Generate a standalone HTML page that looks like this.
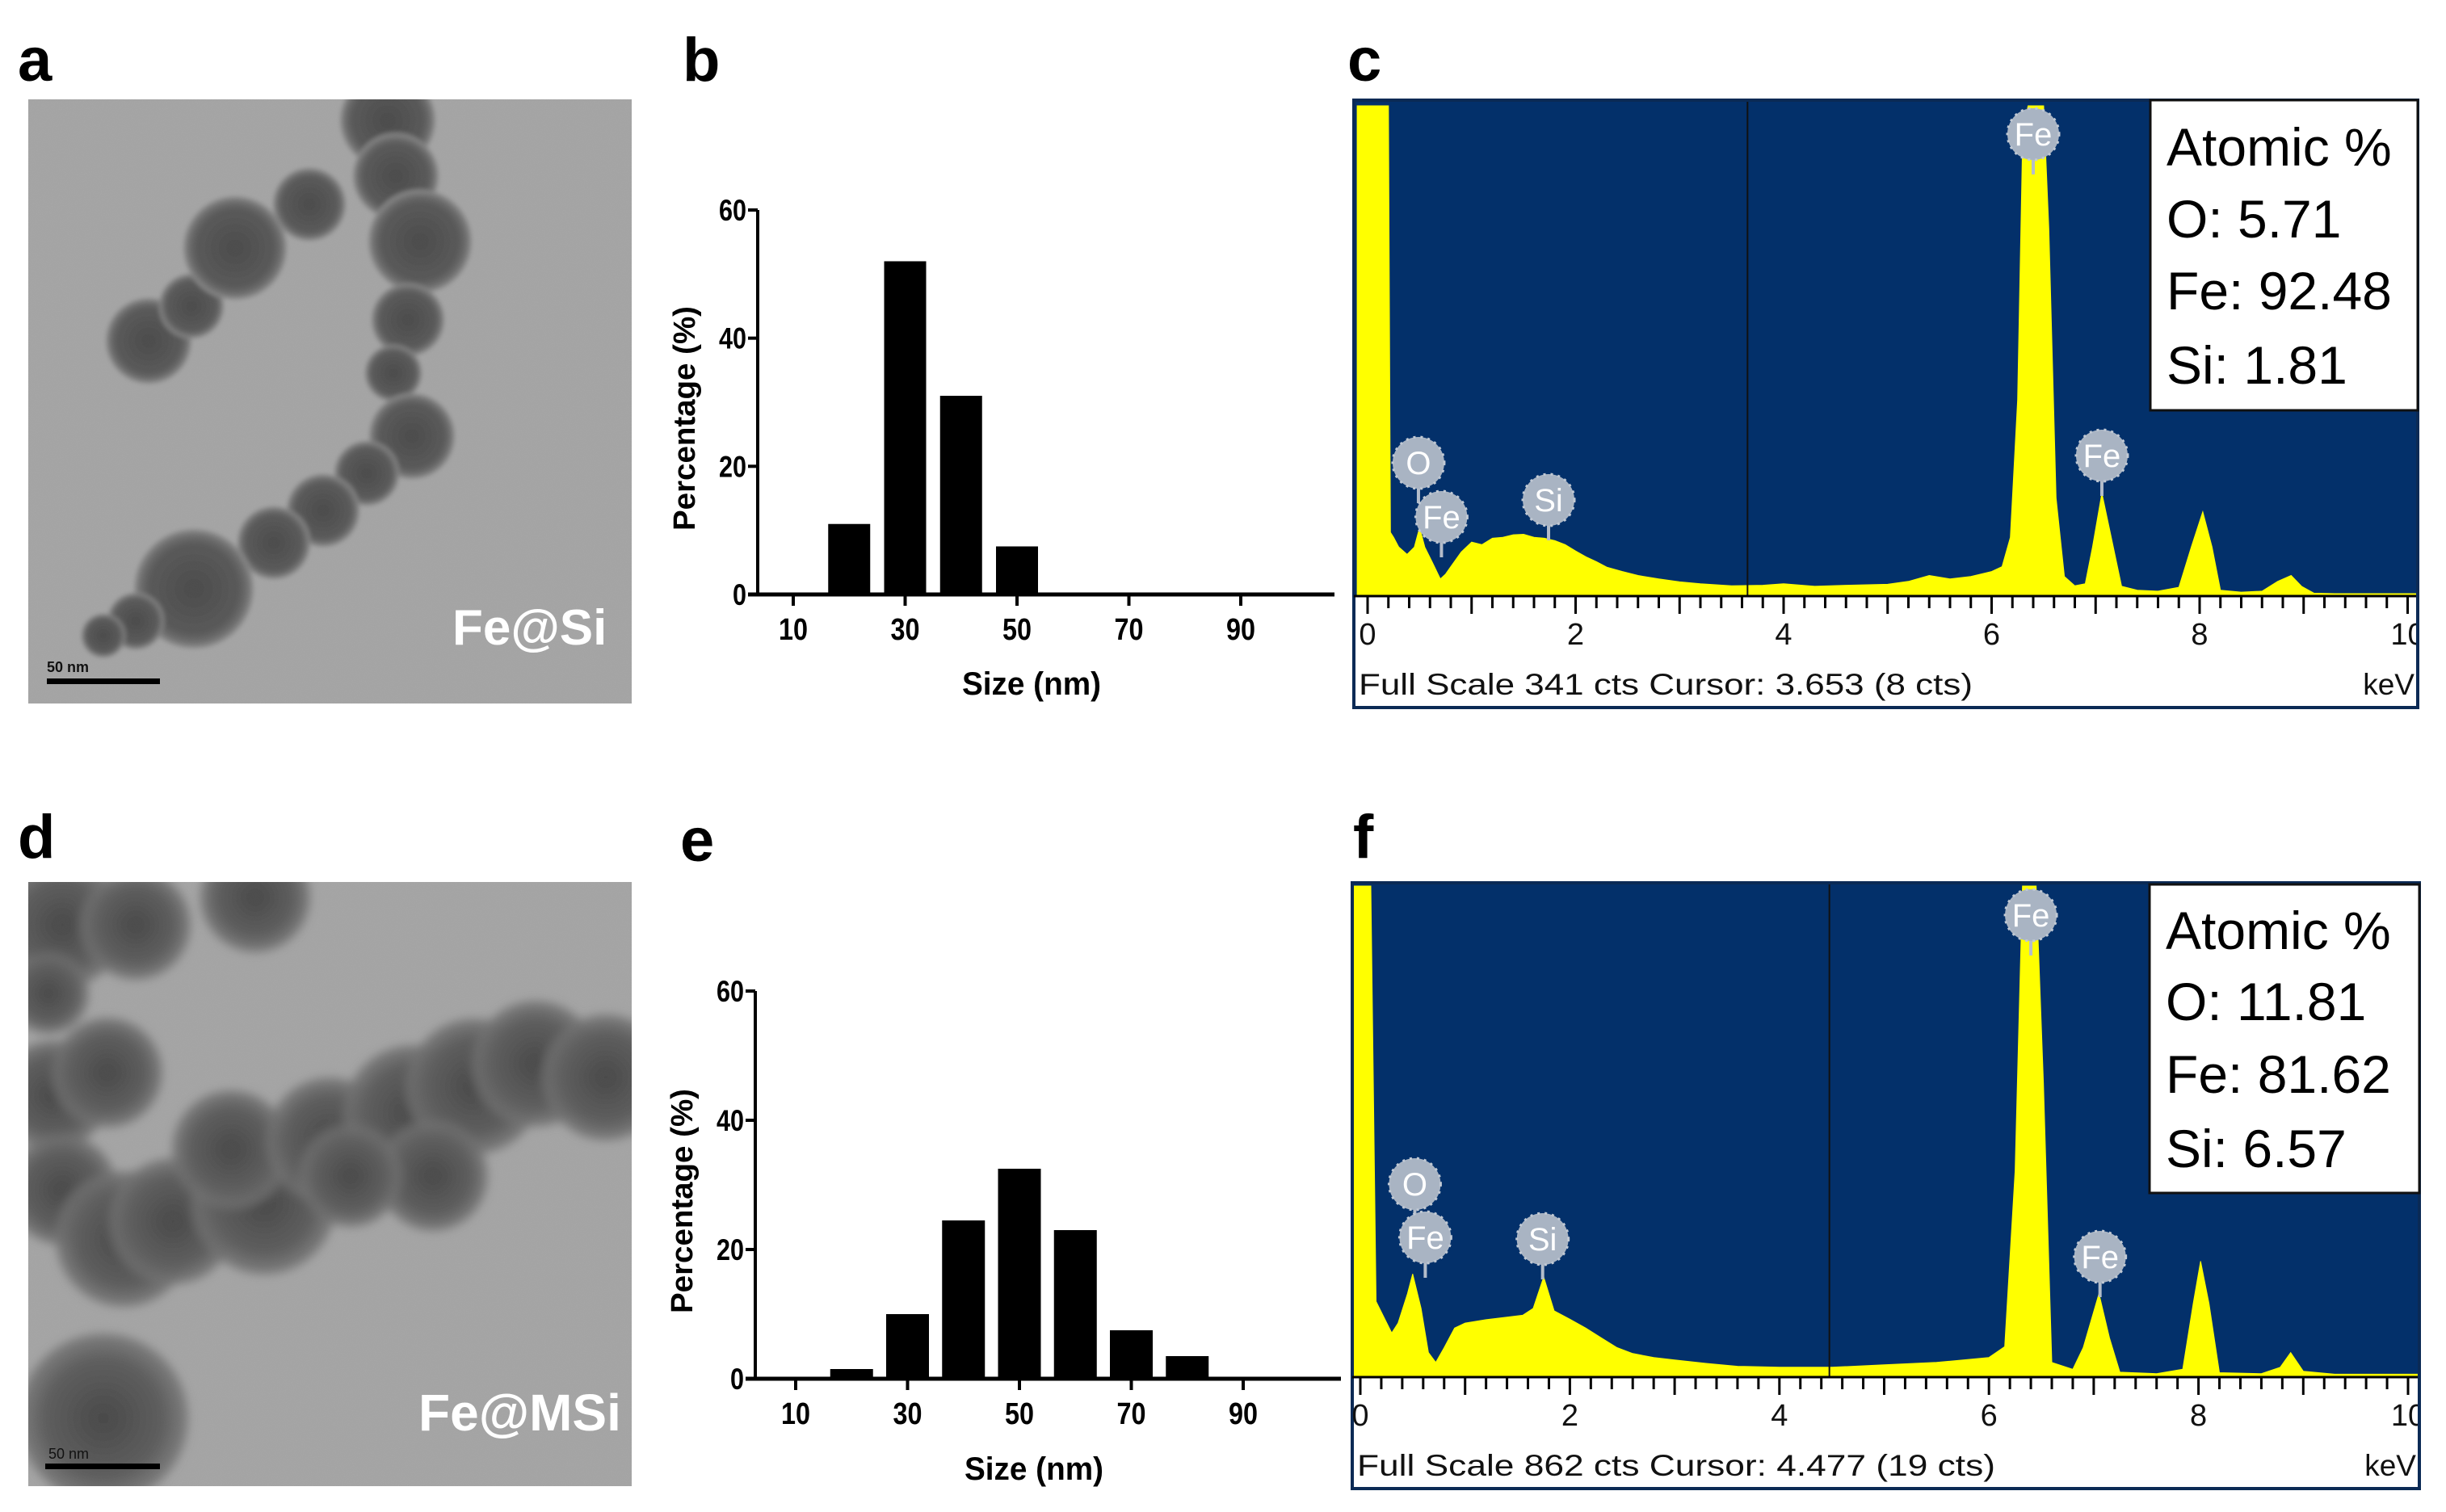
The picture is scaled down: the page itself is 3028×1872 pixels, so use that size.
<!DOCTYPE html>
<html><head><meta charset="utf-8">
<style>
html,body{margin:0;padding:0;background:#fff;}
body{width:3028px;height:1872px;overflow:hidden;position:relative;font-family:"Liberation Sans",sans-serif;}
svg{position:absolute;left:0;top:0;}
</style></head>
<body>
<svg id="fig" width="3028" height="1872" viewBox="0 0 3028 1872" xmlns="http://www.w3.org/2000/svg">
<defs>
<filter id="grain" x="0" y="0" width="100%" height="100%">
<feTurbulence type="fractalNoise" baseFrequency="0.9" numOctaves="2" seed="3" result="n"/>
<feColorMatrix in="n" type="matrix" values="0 0 0 0 0.5  0 0 0 0 0.5  0 0 0 0 0.5  0 0 0 0.35 0" result="g"/>
<feComposite in="g" in2="SourceGraphic" operator="atop"/>
</filter>
<filter id="blur6"><feGaussianBlur stdDeviation="3"/></filter>
<filter id="blur10"><feGaussianBlur stdDeviation="6"/></filter>
<radialGradient id="pA"><stop offset="0" stop-color="#202020"/><stop offset="0.75" stop-color="#343434"/><stop offset="0.9" stop-color="#555"/><stop offset="1" stop-color="#888"/></radialGradient>
<radialGradient id="pD"><stop offset="0" stop-color="#1c1c1c"/><stop offset="0.7" stop-color="#3c3c3c"/><stop offset="1" stop-color="#5e5e5e" stop-opacity="0.8"/></radialGradient>
<clipPath id="clipA"><rect x="35" y="123" width="747" height="748"/></clipPath>
<clipPath id="clipD"><rect x="35" y="1092" width="747" height="748"/></clipPath>
<clipPath id="clipC"><rect x="1678" y="126" width="1313" height="612"/></clipPath>
<clipPath id="clipF"><rect x="1676" y="1095" width="1317" height="610"/></clipPath>
<clipPath id="clipCfull"><rect x="1676" y="124" width="1315" height="752"/></clipPath>
<clipPath id="clipFfull"><rect x="1674" y="1093" width="1319" height="750"/></clipPath>
</defs>

<g font-family="Liberation Sans, sans-serif" font-weight="bold" font-size="76" fill="#000">
<text x="22" y="100">a</text>
<text x="845" y="100">b</text>
<text x="1668" y="100">c</text>
<text x="22" y="1062">d</text>
<text x="842" y="1066">e</text>
<text x="1675" y="1062">f</text>
</g>

<g>
<g clip-path="url(#clipA)">
<rect x="35" y="123" width="747" height="748" fill="#a8a8a8"/>
<g id="partsA" filter="url(#blur6)"></g>
<rect x="35" y="123" width="747" height="748" fill="#999" filter="url(#grain)" opacity="0.35"/>
</g>
<text x="560" y="798" font-size="62" font-weight="bold" fill="#fff">Fe@Si</text>
<rect x="58" y="840" width="140" height="7" fill="#000"/>
<text x="58" y="832" font-size="18" font-weight="bold" fill="#111">50 nm</text>
</g>

<g>
<g clip-path="url(#clipD)">
<rect x="35" y="1092" width="747" height="748" fill="#a8a8a8"/>
<g id="partsD" filter="url(#blur10)"></g>
<rect x="35" y="1092" width="747" height="748" fill="#999" filter="url(#grain)" opacity="0.35"/>
</g>
<text x="518" y="1771" font-size="64" font-weight="bold" fill="#fff">Fe@MSi</text>
<rect x="56" y="1812" width="142" height="7" fill="#000"/>
<text x="60" y="1806" font-size="18" fill="#111">50 nm</text>
</g>

<g id="histB"></g>
<g id="histE"></g>
<g id="edsC"></g>
<g id="edsF"></g>
</svg>

<script>
// ---------- histogram data ----------
const sizeCats = [10, 20, 30, 40, 50, 60, 70, 80, 90];
const xTickLabels = [10, 30, 50, 70, 90];
const yTickLabels = [0, 20, 40, 60];
const histBCats = [20, 30, 40, 50];
const histBVals = [11, 52, 31, 7.5];
const histECats = [20, 30, 40, 50, 60, 70, 80];
const histEVals = [1.5, 10, 24.5, 32.5, 23, 7.5, 3.5];

// ---------- EDS data (energy keV, intensity fraction of full scale) ----------
const edsCEnergy = [-0.1,-0.05,0.2,0.22,0.25,0.3,0.38,0.45,0.5,0.55,0.62,0.7,0.75,0.8,0.9,1.0,1.1,1.2,1.3,1.4,1.5,1.6,1.7,1.8,1.9,2.0,2.1,2.2,2.3,2.45,2.6,2.8,3.0,3.2,3.5,3.8,4.0,4.3,4.6,5.0,5.2,5.4,5.6,5.8,6.0,6.1,6.18,6.25,6.3,6.35,6.5,6.55,6.62,6.7,6.8,6.9,6.97,7.06,7.15,7.25,7.4,7.6,7.8,7.92,8.03,8.12,8.2,8.4,8.6,8.75,8.88,8.98,9.1,9.3,9.6,10.1];
const edsCVals =   [1.0,1.0,1.0,0.13,0.12,0.10,0.085,0.10,0.14,0.10,0.07,0.035,0.045,0.06,0.09,0.11,0.105,0.118,0.12,0.125,0.126,0.12,0.118,0.113,0.105,0.092,0.08,0.07,0.059,0.05,0.042,0.035,0.029,0.025,0.021,0.022,0.025,0.02,0.022,0.024,0.03,0.042,0.035,0.04,0.05,0.06,0.12,0.4,0.95,1.0,1.0,0.75,0.2,0.04,0.021,0.025,0.1,0.21,0.12,0.02,0.012,0.01,0.018,0.1,0.172,0.1,0.012,0.008,0.01,0.03,0.042,0.02,0.006,0.005,0.005,0.005];
const edsFEnergy = [-0.1,-0.05,0.1,0.15,0.3,0.36,0.45,0.5,0.58,0.65,0.72,0.8,0.9,1.0,1.2,1.4,1.55,1.65,1.75,1.85,2.0,2.15,2.3,2.45,2.6,2.8,3.0,3.3,3.6,4.0,4.5,5.0,5.5,6.0,6.15,6.25,6.32,6.45,6.52,6.6,6.8,6.9,7.05,7.15,7.25,7.6,7.85,7.95,8.02,8.1,8.2,8.6,8.78,8.88,9.0,9.3,10.1];
const edsFVals =   [1.0,1.0,1.0,0.154,0.09,0.11,0.17,0.21,0.14,0.05,0.03,0.06,0.1,0.11,0.117,0.122,0.126,0.14,0.204,0.135,0.118,0.1,0.08,0.06,0.048,0.04,0.035,0.028,0.022,0.02,0.02,0.025,0.03,0.04,0.062,0.42,1.0,1.0,0.6,0.03,0.016,0.06,0.17,0.08,0.01,0.007,0.016,0.15,0.236,0.15,0.009,0.007,0.02,0.05,0.012,0.006,0.006];
const xKevLabels = [0, 2, 4, 6, 8, 10];
const edsCPeakNames = ["O", "Fe", "Si", "Fe", "Fe"];
const edsCPeakKev = [0.52, 0.71, 1.74, 6.40, 7.06];
const edsFPeakNames = ["O", "Fe", "Si", "Fe", "Fe"];
const edsFPeakKev = [0.52, 0.62, 1.74, 6.40, 7.06];
const atomicC = ["Atomic %", "O: 5.71", "Fe: 92.48", "Si: 1.81"];
const atomicF = ["Atomic %", "O: 11.81", "Fe: 81.62", "Si: 6.57"];

const NS = "http://www.w3.org/2000/svg";
function mk(tag, attrs, parent) {
  const e = document.createElementNS(NS, tag);
  for (const k in attrs) e.setAttribute(k, attrs[k]);
  if (parent) parent.appendChild(e);
  return e;
}

const partsA = [[184,422,47],[237,379,34],[291,307,58],[383,253,39],[480,149,53],[490,218,47],[520,299,58],[505,396,39],[487,462,29],[510,540,47],[454,586,34],[400,632,39],[339,672,39],[240,729,68],[168,769,29],[128,787,21]];
const gA = document.getElementById('partsA');
partsA.forEach(p => {
  const c = mk('circle', {cx:p[0], cy:p[1], r:p[2]+6, fill:'url(#pA)'}, gA);
  
  
});
const partsD = [[77,1145,68],[168,1145,58],[316,1111,58],[66,1356,58],[133,1328,58],[77,1473,58],[153,1534,74],[214,1512,68],[327,1489,79],[286,1423,63],[408,1412,68],[510,1378,74],[587,1345,74],[663,1317,68],[750,1334,68],[536,1456,58],[434,1456,53],[128,1756,95],[60,1230,40]];
const gD = document.getElementById('partsD');
partsD.forEach(p => {
  const c = mk('circle', {cx:p[0], cy:p[1], r:p[2]+10, fill:'url(#pD)'}, gD);
  
  
});

function histogram(g, cfg, cats, vals) {
  const xS = v => cfg.x10 + (v - 10) * (cfg.x90 - cfg.x10) / 80;
  const yS = v => cfg.y0 - v * (cfg.y0 - cfg.y60) / 60;
  cats.forEach((c, i) => {
    const r = mk('rect', {x: xS(c) - cfg.bw/2, y: yS(vals[i]), width: cfg.bw, height: yS(0) - yS(vals[i]), fill:'#000'}, g);
    
    
  });
  const ya = mk('line', {x1: cfg.ax, y1: yS(60), x2: cfg.ax, y2: yS(0) + 2, stroke:'#000', 'stroke-width':4}, g);
  
  
  const xa = mk('line', {x1: cfg.ax - 12, y1: yS(0), x2: cfg.xEnd, y2: yS(0), stroke:'#000', 'stroke-width':5}, g);
  
  
  yTickLabels.forEach(v => {
    mk('line', {x1: cfg.ax - 12, y1: yS(v), x2: cfg.ax, y2: yS(v), stroke:'#000', 'stroke-width':4}, g);
    const t = mk('text', {x: cfg.ax - 14, y: yS(v) + 13, 'text-anchor':'end', 'font-size':37, 'font-weight':'bold', textLength: String(v).length * 17, lengthAdjust:'spacingAndGlyphs'}, g);
    t.textContent = v;
    
    
  });
  xTickLabels.forEach(v => {
    mk('line', {x1: xS(v), y1: yS(0), x2: xS(v), y2: yS(0) + 14, stroke:'#000', 'stroke-width':4}, g);
    const t = mk('text', {x: xS(v), y: yS(0) + 56, 'text-anchor':'middle', 'font-size':38, 'font-weight':'bold', textLength: 36, lengthAdjust:'spacingAndGlyphs'}, g);
    t.textContent = v;
    
    
  });
  const xt = mk('text', {x: (xS(10)+xS(90))/2 + 18, y: cfg.titleY, 'text-anchor':'middle', 'font-size':40, 'font-weight':'bold', textLength: 172, lengthAdjust:'spacingAndGlyphs'}, g);
  xt.textContent = 'Size (nm)';
  
  
  const yt = mk('text', {x: 0, y: 0, 'text-anchor':'middle', 'font-size':38, 'font-weight':'bold', textLength: 278, lengthAdjust:'spacingAndGlyphs', transform: 'translate(' + cfg.ytX + ',' + ((yS(0)+yS(60))/2 + 20) + ') rotate(-90)'}, g);
  yt.textContent = 'Percentage (%)';
  
  
}
histogram(document.getElementById('histB'), {x10:982, x90:1536, y0:736, y60:260, ax:938, xEnd:1652, bw:52, titleY:860, ytX:860}, histBCats, histBVals);
histogram(document.getElementById('histE'), {x10:985, x90:1539, y0:1707, y60:1227, ax:935, xEnd:1660, bw:53, titleY:1832, ytX:857}, histECats, histEVals);

function eds(g, cfg, en, vals, pkNames, pkKev, atomic, footer) {
  const xS = k => cfg.x0 + k * cfg.kpx;
  const yS = v => cfg.base - v * (cfg.base - cfg.top);
  const fr = mk('rect', {x: cfg.L, y: cfg.T, width: cfg.R - cfg.L, height: cfg.B - cfg.T, fill:'#fff', stroke:'#0b2a55', 'stroke-width':4}, g);
  
  
  const bg = mk('rect', {x: cfg.L + 2, y: cfg.T + 2, width: cfg.R - cfg.L - 4, height: cfg.base - cfg.T - 2, fill:'#03306a'}, g);
  
  
  const clipG = mk('g', {'clip-path': 'url(#' + cfg.clip + ')'}, g);
  let d = 'M' + xS(en[0]) + ',' + yS(0);
  en.forEach((k, i) => { d += ' L' + xS(k).toFixed(1) + ',' + yS(vals[i]).toFixed(1); });
  d += ' L' + xS(en[en.length-1]) + ',' + yS(0) + ' Z';
  const area = mk('path', {d: d, fill:'#ffff00', stroke:'#ffff00', 'stroke-width':1}, clipG);
  
  
  const cur = mk('line', {x1: xS(cfg.cursor), y1: cfg.T + 2, x2: xS(cfg.cursor), y2: cfg.base, stroke:'#111', 'stroke-width':2}, g);
  
  
  const fg = mk('g', {'clip-path': 'url(#' + cfg.clipFull + ')'}, g);
  mk('line', {x1: cfg.L, y1: cfg.base, x2: cfg.R, y2: cfg.base, stroke:'#000', 'stroke-width':3}, fg);
  for (let i = 0; i <= 50; i++) {
    const k = i * 0.2;
    const major = i % 5 === 0;
    mk('line', {x1: xS(k), y1: cfg.base, x2: xS(k), y2: cfg.base + (major ? 22 : 15), stroke:'#000', 'stroke-width':3}, fg);
  }
  xKevLabels.forEach(v => {
    const t = mk('text', {x: xS(v), y: cfg.base + 60, 'text-anchor':'middle', 'font-size':38, fill:'#111'}, fg);
    t.textContent = v;
    
    
  });
  const ft = mk('text', {x: cfg.L + 6, y: cfg.B - 16, 'font-size':37, fill:'#111', textLength: cfg.footW, lengthAdjust:'spacingAndGlyphs'}, g);
  ft.textContent = footer;
  
  
  const kv = mk('text', {x: cfg.R - 4, y: cfg.B - 16, 'text-anchor':'end', 'font-size':37, fill:'#111'}, g);
  kv.textContent = 'keV';
  
  
  pkKev.forEach((k, i) => {
    const cx = xS(k) + cfg.pkDx[i], cy = cfg.pkY[i];
    const lg = mk('g', {}, g);
    
    
    mk('line', {x1: cx, y1: cy + 30, x2: cx, y2: cy + 50, stroke:'#b4bdca', 'stroke-width':4}, lg);
    mk('circle', {cx: cx, cy: cy, r: 32, fill:'#a9b4c3', stroke:'#c1c9d4', 'stroke-width':3, 'stroke-dasharray':'3 6'}, lg);
    const t = mk('text', {x: cx, y: cy + 14, 'text-anchor':'middle', 'font-size':40, fill:'#fff'}, lg);
    t.textContent = pkNames[i];
  });
  const lg = mk('g', {}, g);
  
  
  mk('rect', {x: cfg.legX, y: cfg.legY, width: cfg.R - cfg.legX, height: cfg.legH, fill:'#fff', stroke:'#111', 'stroke-width':3}, lg);
  atomic.forEach((s, i) => {
    const t = mk('text', {x: cfg.legX + 20, y: cfg.legBase[i], 'font-size':66, fill:'#000'}, lg);
    t.textContent = s;
    
    
  });
}
eds(document.getElementById('edsC'), {L:1676, T:124, R:2993, B:876, base:738, top:131, x0:1693, kpx:128.75, cursor:3.653, clip:'clipC', clipFull:'clipCfull',
  pkDx:[-4,0,0,0,0], pkY:[573,640,619,166,564], legX:2662, legY:124, legH:384, legBase:[205,294,383,475], footW:760},
  edsCEnergy, edsCVals, edsCPeakNames, edsCPeakKev, atomicC, 'Full Scale 341 cts Cursor: 3.653  (8 cts)');
eds(document.getElementById('edsF'), {L:1674, T:1093, R:2995, B:1843, base:1705, top:1097, x0:1684, kpx:129.7, cursor:4.477, clip:'clipF', clipFull:'clipFfull',
  pkDx:[0,0,0,0,0], pkY:[1466,1532,1534,1133,1556], legX:2661, legY:1095, legH:382, legBase:[1175,1263,1353,1445], footW:790},
  edsFEnergy, edsFVals, edsFPeakNames, edsFPeakKev, atomicF, 'Full Scale 862 cts Cursor: 4.477  (19 cts)');
</script>
</body></html>
